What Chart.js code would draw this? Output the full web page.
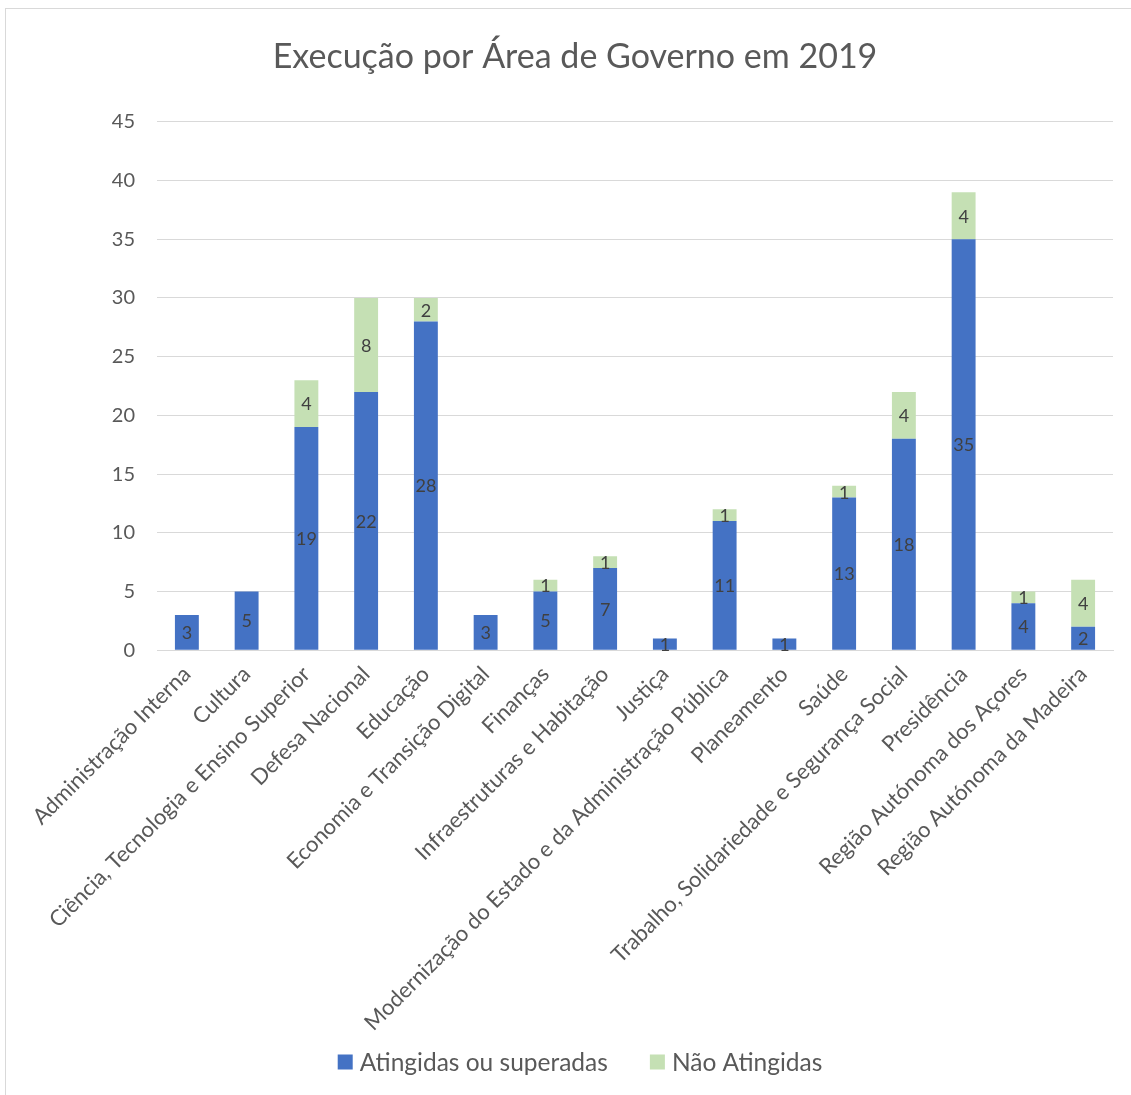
<!DOCTYPE html>
<html><head><meta charset="utf-8">
<script src="https://cdn.jsdelivr.net/npm/chart.js@4/dist/chart.umd.min.js"></script>
<style>
html,body{margin:0;padding:0;background:#fff;}
#wrap{position:absolute;left:5px;top:8px;width:1126px;height:1087px;border-left:1px solid #d9d9d9;border-top:1px solid #d9d9d9;box-sizing:border-box;}
#c{position:absolute;left:0;top:0;}
</style></head><body>
<div id="wrap"></div>
<canvas id="c" width="1131" height="1095"></canvas>
<script>
const categories = ["Administração Interna","Cultura","Ciência, Tecnologia e Ensino Superior","Defesa Nacional","Educação","Economia e Transição Digital","Finanças","Infraestruturas e Habitação","Justiça","Modernização do Estado e da Administração Pública","Planeamento","Saúde","Trabalho, Solidariedade e Segurança Social","Presidência","Região Autónoma dos Açores","Região Autónoma da Madeira"];
const atingidas = [3,5,19,22,28,3,5,7,1,11,1,13,18,35,4,2];
const naoAtingidas = [0,0,4,8,2,0,1,1,0,1,0,1,4,4,1,4];
const yTicks = [0,5,10,15,20,25,30,35,40,45];

const FONT = "Lato, 'Open Sans', sans-serif";
const labelPlugin = {
  id:'segLabels',
  afterDatasetsDraw(chart){
    const ctx = chart.ctx;
    ctx.save();
    ctx.font = "18px " + FONT;
    ctx.fillStyle = "#404040";
    ctx.textAlign = "center";
    ctx.textBaseline = "middle";
    chart.data.datasets.forEach((ds,i)=>{
      const meta = chart.getDatasetMeta(i);
      meta.data.forEach((bar,j)=>{
        const v = ds.data[j];
        if(!v) return;
        const y = (bar.y + bar.base)/2;
        ctx.fillText(String(v), bar.x, y+1);
      });
    });
    ctx.restore();
  }
};
const legendPlugin = {
  id:'customLegend',
  afterDraw(chart){
    const ctx = chart.ctx;
    ctx.save();
    ctx.font = "24.5px " + FONT;
    ctx.textBaseline = "middle";
    ctx.textAlign = "left";
    const box = 15, gapBT = 7, gapItem = 42, cy = 1062, cx = 580;
    const items = chart.data.datasets.map(d=>({text:d.label,color:d.backgroundColor,w:ctx.measureText(d.label).width}));
    let total = 0;
    items.forEach((it,k)=>{ total += box + gapBT + it.w + (k < items.length-1 ? gapItem : 0); });
    let x = cx - total/2;
    items.forEach(it=>{
      ctx.fillStyle = it.color;
      ctx.fillRect(x, cy - box/2, box, box);
      x += box + gapBT;
      ctx.fillStyle = "#595959";
      ctx.fillText(it.text, x, cy + 1);
      x += it.w + gapItem;
    });
    ctx.restore();
  }
};

new Chart(document.getElementById('c'), {
  type:'bar',
  data:{
    labels: categories,
    datasets:[
      {label:"Atingidas ou superadas", data: atingidas, backgroundColor:"#4472c4", borderWidth:0, categoryPercentage:1, barPercentage:0.4},
      {label:"Não Atingidas", data: naoAtingidas, backgroundColor:"#c5e0b4", borderWidth:0, categoryPercentage:1, barPercentage:0.4}
    ]
  },
  options:{
    responsive:false,
    animation:false,
    layout:{padding:{left:37,right:18,top:37,bottom:48}},
    plugins:{
      title:{display:true,text:"Execução por Área de Governo em 2019",color:"#595959",font:{family:FONT,size:34,weight:'normal'},padding:{top:0,bottom:44}},
      legend:{display:false},
      tooltip:{enabled:false}
    },
    scales:{
      x:{stacked:true,grid:{display:false,drawTicks:false},border:{color:"#d9d9d9",width:1},
         ticks:{color:"#595959",font:{family:FONT,size:22},minRotation:45,maxRotation:45,padding:11}},
      y:{stacked:true,min:0,max:45,
         afterBuildTicks(axis){axis.ticks = yTicks.map(v=>({value:v}));},
         afterFit(axis){axis.width = 120;},
         grid:{color:"#d9d9d9",drawTicks:false},border:{display:false},
         ticks:{color:"#595959",font:{family:FONT,size:20},padding:22}}
    }
  },
  plugins:[labelPlugin, legendPlugin]
});
</script>
</body></html>
